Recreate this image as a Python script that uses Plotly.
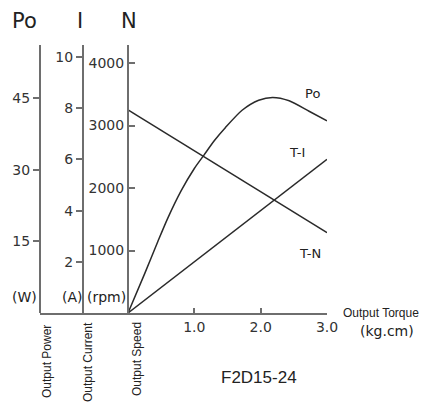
import plotly.graph_objects as go

# ---- data ----
torque_line = [0.0, 3.0]
speed_rpm = [3250, 1285]          # T-N
current_a = [0.0, 6.0]            # T-I
torque_po = [0.0, 0.25, 0.45, 0.6, 0.8, 1.0, 1.14, 1.3, 1.47, 1.72, 1.97, 2.18, 2.43, 2.73, 3.0]
power_w = [0.0, 8.2, 15.0, 19.9, 25.6, 30.3, 33.0, 36.1, 38.9, 42.5, 44.6, 45.2, 44.5, 42.3, 40.3]

x_ticks = [1, 2, 3]
x_ticktext = ["1.0", "2.0", "3.0"]
n_ticks = [1000, 2000, 3000, 4000]
i_ticks = [2, 4, 6, 8, 10]
p_ticks = [15, 30, 45]

OFF = 8  # page body margin of the browser
W, H = 430 - OFF, 403 - OFF
L, T = 40 - OFF, 45 - OFF
R = W - (327 - OFF)
B = H - (313 - OFF)
PW, PH = W - L - R, H - T - B

def px(x):
    return (x - OFF - L) / PW

def py(y):
    return (H - B - (y - OFF)) / PH

AX = "#6e6e6e"
LN = "#2a2a2a"
FONT = "DejaVu Sans"
NARROW = "Liberation Sans"

fig = go.Figure()
fig.add_trace(go.Scatter(x=torque_line, y=speed_rpm, mode="lines",
                         line=dict(color=LN, width=1.5), yaxis="y", showlegend=False))
fig.add_trace(go.Scatter(x=torque_line, y=current_a, mode="lines",
                         line=dict(color=LN, width=1.5), yaxis="y2", showlegend=False))
fig.add_trace(go.Scatter(x=torque_po, y=power_w, mode="lines",
                         line=dict(color=LN, width=1.5, shape="spline", smoothing=0.7),
                         yaxis="y3", showlegend=False))

x0 = 128
ppu = (327 - 128) / 3.0
xmin = (40 - x0) / ppu

tickfont = dict(family=FONT, size=14, color="#333")
common = dict(showgrid=False, zeroline=False, showline=True, linecolor=AX, linewidth=2,
              tickcolor=AX, tickwidth=1.5, ticklen=6, tickfont=tickfont,
              domain=[0, 1], anchor="free", side="left", fixedrange=True,
              automargin=False)

fig.update_layout(
    width=W, height=H,
    margin=dict(l=L, r=R, t=T, b=B, pad=0, autoexpand=False),
    paper_bgcolor="white", plot_bgcolor="white",
    xaxis=dict(range=[xmin, 3.0], showgrid=False, zeroline=False, showline=True,
               linecolor=AX, linewidth=2, ticks="inside", ticklen=5, tickcolor=AX,
               tickwidth=1.5, tickvals=x_ticks, ticktext=x_ticktext,
               tickfont=tickfont, anchor="y", domain=[0, 1], fixedrange=True,
               automargin=False),
    yaxis=dict(range=[0, 268 / 62.5 * 1000], tickvals=n_ticks, ticks="inside",
               position=px(128), **common),
    yaxis2=dict(range=[0, 268 / 25.6], tickvals=i_ticks, ticks="outside",
                position=px(83), overlaying="y", **common),
    yaxis3=dict(range=[0, 268 / 4.77], tickvals=p_ticks, ticks="outside",
                position=px(40), overlaying="y", **common),
)

def ann(text, x, y, size=14, family=FONT, angle=0, xanchor="center", yanchor="middle"):
    fig.add_annotation(text=text, x=px(x), y=py(y), xref="paper", yref="paper",
                       showarrow=False, textangle=angle, xanchor=xanchor, yanchor=yanchor,
                       font=dict(family=family, size=size, color="#222"))

ann("Po", 24, 21, size=21)
ann("I", 80, 21, size=21)
ann("N", 129, 21, size=21)

ann("(W)", 24, 297)
ann("(A)", 72, 297)
ann("(rpm)", 106, 297)

ann("Po", 312, 93, size=13)
ann("T-I", 297, 152, size=13)
ann("T-N", 310, 253, size=13)

ann("Output Power", 47, 362, size=12, family=NARROW, angle=-90)
ann("Output Current", 88, 362, size=12, family=NARROW, angle=-90)
ann("Output Speed", 137, 359, size=12, family=NARROW, angle=-90)

ann("Output Torque", 381, 313, size=12, family=NARROW)
ann("(kg.cm)", 387, 331, size=14)
ann("F2D15-24", 259, 377, size=17, family=NARROW)

fig.write_html("out.html")
